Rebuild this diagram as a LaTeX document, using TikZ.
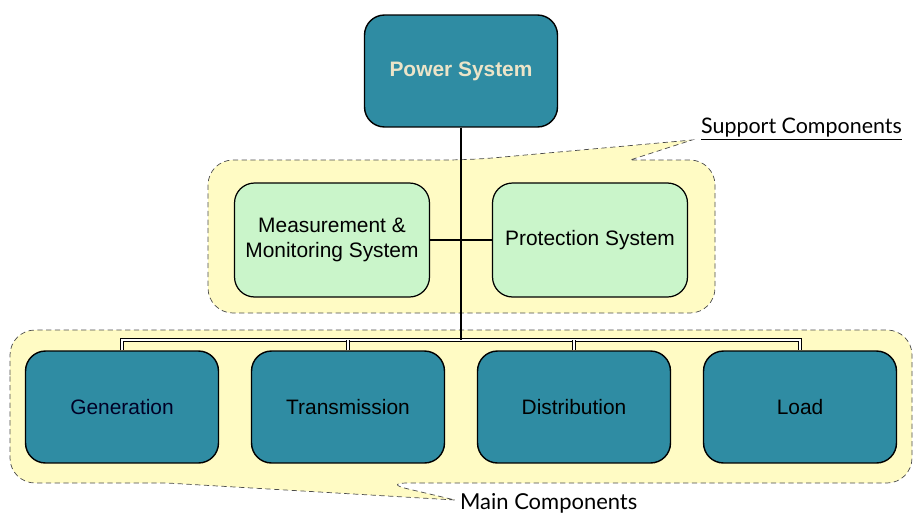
\documentclass[tikz,border=0pt]{standalone}
\usepackage{fontspec}
\setmainfont{Liberation Sans}
\newfontfamily\labelfont{Lato}
\definecolor{boxteal}{RGB}{47,140,163}
\definecolor{cream}{RGB}{236,228,200}
\definecolor{mint}{RGB}{202,245,202}
\definecolor{pale}{RGB}{255,251,196}
\begin{document}
\begin{tikzpicture}[x=0.02cm,y=-0.02cm,
    region/.style={fill=pale, draw=black!70, densely dashed, thin},
    mainbox/.style={draw=black, line width=0.8pt, fill=boxteal, rounded corners=0.4cm,
        minimum width=3.86cm, minimum height=2.24cm, font=\fontsize{11.9}{14}\selectfont},
    supbox/.style={draw=black, line width=0.7pt, fill=mint, rounded corners=0.4cm,
        minimum width=3.9cm, minimum height=2.28cm, align=center,
        font=\fontsize{11.9}{14}\selectfont},
    busline/.style={double=white, double distance=1pt, line width=0.5pt}]
    \useasboundingbox (0,0) rectangle (915,514);
    % yellow call-outs
    \path[region] (208,250) [rounded corners=0.5cm] -- (208,160) -- (470,160)
        [sharp corners] -- (692,140) -- (630,160)
        [rounded corners=0.5cm] -- (715,160) -- (715,313) -- (208,313) -- cycle;
    \path[region] (10,400) [rounded corners=0.5cm] -- (10,330) -- (912,330) -- (912,483)
        -- (383,483) [sharp corners] -- (455,500) -- (167,483)
        [rounded corners=0.5cm] -- (10,483) -- cycle;
    \node[font=\labelfont\fontsize{12.2}{14}\selectfont, anchor=west, inner sep=1pt] (suplbl) at (699,129) {\underline{Support Components}};
    \node[font=\labelfont\fontsize{12.5}{14}\selectfont, anchor=west, inner sep=1pt] (mainlbl) at (458,503) {Main Components};

    \node[mainbox, text=cream, font=\bfseries\fontsize{11.9}{14}\selectfont] (ps) at (461,71) {Power System};
    \node[supbox] (meas) at (332,240) {Measurement \&\\Monitoring System};
    \node[supbox] (prot) at (590,240) {Protection System};
    \node[mainbox, text=black!85!blue] (gen) at (122,407) {Generation};
    \node[mainbox] (tra) at (348,407) {Transmission};
    \node[mainbox] (dis) at (574,407) {Distribution};
    \node[mainbox] (load) at (800,407) {Load};

    \coordinate (bus) at (461,340);
    \draw[busline] (gen.north) |- (bus) -| (load.north);
    \foreach \n in {tra,dis}
        \draw[busline] (\n.north) -- (\n.north |- bus);
    \draw[line width=0.8pt] (ps.south) -- (bus);
    \draw[line width=1.6pt] (meas.east) -- (prot.west);
\end{tikzpicture}
\end{document}
